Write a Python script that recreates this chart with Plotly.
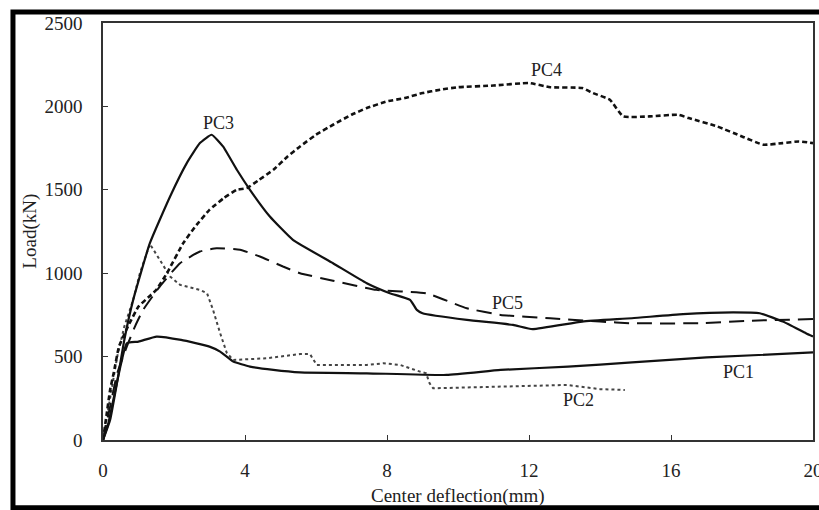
import plotly.graph_objects as go

# ---- data ----
pc1_x = [0, 0.15, 0.3, 0.5, 0.67, 1.0, 1.51, 2.2, 3.0, 3.3, 3.67, 4.14, 4.8, 5.55, 7.43, 9.68, 11.2, 13.1, 14.9, 17.0, 20.0]
pc1_y = [0, 100, 250, 450, 580, 590, 620, 600, 560, 530, 470, 440, 420, 405, 400, 390, 420, 440, 465, 495, 525]

pc2_x = [0, 0.2, 0.4, 0.6, 0.85, 1.04, 1.32, 1.6, 1.89, 2.17, 2.73, 2.93, 3.1, 3.3, 3.49, 3.67, 4.6, 5.55, 5.83, 6.02,
         7.43, 7.9, 8.37, 8.93, 9.1, 9.2, 9.3, 11.2, 13.07, 14.0, 14.7]
pc2_y = [0, 250, 500, 680, 840, 1000, 1175, 1080, 980, 930, 900, 880, 780, 640, 520, 480, 490, 515, 515, 450,
         450, 460, 450, 410, 400, 340, 310, 320, 330, 305, 300]

pc3_x = [0, 0.2, 0.4, 0.6, 0.85, 1.32, 1.89, 2.36, 2.73, 3.06, 3.38, 3.77, 4.14, 4.7, 5.35, 6.48, 7.43, 8.08, 8.65,
         8.84, 9.0, 10.25, 11.55, 12.1, 13.5, 14.9, 16.34, 17.75, 18.5, 19.15, 19.8, 20.0]
pc3_y = [0, 120, 350, 600, 840, 1180, 1460, 1660, 1780, 1830, 1760, 1620, 1500, 1340, 1200, 1060, 940, 880, 840,
         780, 760, 720, 690, 665, 710, 730, 755, 765, 760, 710, 640, 620]

pc4_x = [0, 0.1, 0.2, 0.3, 0.45, 0.7, 1.0, 1.3, 1.5, 1.8, 2.26, 2.6, 3.0, 3.4, 3.77, 4.05, 4.4, 4.8, 5.2, 5.55, 6.0,
         6.48, 7.0, 7.43, 8.0, 8.5, 9.0, 9.5, 10.0, 11.0, 12.0, 12.6, 13.5, 13.8, 14.28, 14.65, 15.4, 16.2, 16.5,
         17.3, 18.0, 18.6, 19.15, 19.6, 20.0]
pc4_y = [0, 150, 300, 400, 560, 680, 800, 860, 900, 1000, 1180, 1280, 1380, 1450, 1500, 1510, 1560, 1620, 1700, 1760,
         1830, 1890, 1950, 1990, 2030, 2050, 2080, 2100, 2115, 2125, 2140, 2115, 2110, 2080, 2040, 1940, 1940, 1950,
         1930, 1880, 1820, 1770, 1780, 1790, 1780]

pc5_x = [0, 0.2, 0.4, 0.67, 0.9, 1.13, 1.6, 2.17, 2.73, 3.2, 3.86, 4.42, 5.07, 5.55, 6.48, 7.7, 9.1, 10.25, 11.2,
         12.6, 14.0, 14.9, 16.8, 18.2, 20.0]
pc5_y = [0, 200, 400, 560, 680, 780, 920, 1060, 1130, 1150, 1140, 1100, 1040, 1000, 955, 900, 880, 790, 750,
         730, 710, 700, 700, 715, 725]

labels = ["PC1", "PC2", "PC3", "PC4", "PC5"]
label_x = [17.9, 13.4, 3.24, 12.5, 11.4]
label_y = [408, 240, 1900, 2220, 820]

x_ticks = [0, 4, 8, 12, 16, 20]
y_ticks = [0, 500, 1000, 1500, 2000, 2500]

FONT = "Liberation Serif"

fig = go.Figure()
fig.add_trace(go.Scatter(x=pc1_x, y=pc1_y, mode="lines", name="PC1",
                         line=dict(color="#111111", width=2.2, shape="spline", smoothing=0.4)))
fig.add_trace(go.Scatter(x=pc2_x, y=pc2_y, mode="lines", name="PC2",
                         line=dict(color="#444444", width=2, dash="dot")))
fig.add_trace(go.Scatter(x=pc3_x, y=pc3_y, mode="lines", name="PC3",
                         line=dict(color="#111111", width=2.2, shape="spline", smoothing=0.4)))
fig.add_trace(go.Scatter(x=pc4_x, y=pc4_y, mode="lines", name="PC4",
                         line=dict(color="#111111", width=2.6, dash="5px,3px", shape="spline", smoothing=0.4)))
fig.add_trace(go.Scatter(x=pc5_x, y=pc5_y, mode="lines", name="PC5",
                         line=dict(color="#111111", width=2, dash="15px,8px", shape="spline", smoothing=0.4)))

for t, xx, yy in zip(labels, label_x, label_y):
    fig.add_annotation(x=xx, y=yy, text=t, showarrow=False,
                       font=dict(family=FONT, size=18, color="#222222"))

# axis titles
fig.add_annotation(xref="paper", yref="paper", x=0.5, y=-0.134, xanchor="center", yanchor="middle",
                   text="Center deflection(mm)",
                   showarrow=False, font=dict(family=FONT, size=19, color="#222222"))
fig.add_annotation(xref="paper", yref="paper", x=-0.104, y=0.5, xanchor="center", yanchor="middle",
                   text="Load(kN)", textangle=-90,
                   showarrow=False, font=dict(family=FONT, size=19, color="#222222"))

# thick outer black frame (right side runs off the image)
fig.add_shape(type="rect", xref="paper", yref="paper", x0=-0.1268, x1=1.03, y0=-0.1625, y1=1.0264,
              line=dict(color="black", width=5), layer="above")

axis_common = dict(showline=True, linecolor="#333333", linewidth=1.5, mirror=True,
                   ticks="inside", ticklen=5, tickwidth=1, tickcolor="#333333",
                   showgrid=False, zeroline=False, ticklabeloverflow="allow",
                   tickfont=dict(family=FONT, size=19, color="#222222"))

fig.update_xaxes(range=[0, 20], tickvals=x_ticks, ticklabelstandoff=12, **axis_common)
fig.update_yaxes(range=[0, 2500], tickvals=y_ticks, ticklabelstandoff=15, **axis_common)

fig.update_layout(width=819, height=510, margin=dict(l=103, r=6, t=23, b=70, autoexpand=False),
                  paper_bgcolor="white", plot_bgcolor="white", showlegend=False)

fig.write_html("out.html")
